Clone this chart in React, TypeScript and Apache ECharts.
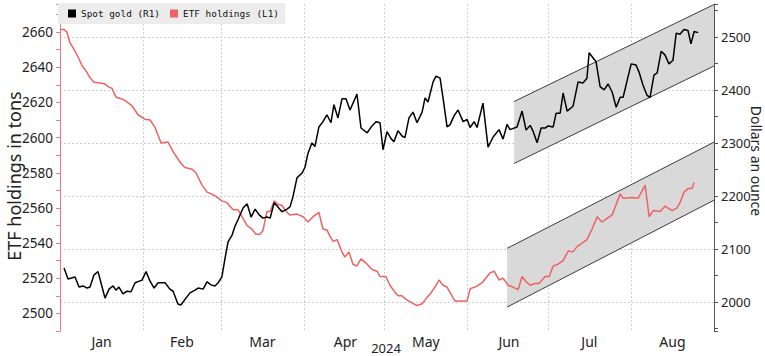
import React, { useEffect, useRef } from 'react';
import * as echarts from 'echarts';

// Month labels and lengths (2024, leap year) for the x axis
const monthNames = ['Jan', 'Feb', 'Mar', 'Apr', 'May', 'Jun', 'Jul', 'Aug'];
const monthDays = [31, 29, 31, 30, 31, 30, 31, 31];

// Spot gold, dollars an ounce (right axis). x = days since Jan 1, 2024
const goldDays = [1.5,3.0,5.6,7.1,8.6,10.1,11.2,12.7,14.2,15.7,16.8,18.3,19.8,20.9,22.0,23.5,25.0,26.5,28.0,30.6,32.1,33.6,35.1,36.6,39.2,41.0,42.2,44.0,45.1,47.0,48.5,50.4,51.5,53.4,54.9,56.3,57.8,59.0,60.4,61.6,62.7,64.2,65.3,66.4,68.3,69.8,71.3,72.8,74.3,75.7,77.2,78.4,79.9,81.3,82.8,84.7,85.8,86.9,88.4,90.3,91.4,92.5,94.0,95.1,96.6,98.1,99.6,101.1,102.2,103.7,105.2,106.7,108.2,110.8,112.3,114.6,116.4,117.9,119.4,120.5,122.0,123.5,124.6,126.1,127.6,128.7,130.2,131.7,133.2,135.1,136.2,137.3,139.2,140.3,141.8,142.9,144.4,145.5,147.0,148.5,150.4,151.9,153.0,154.5,155.6,157.8,159.7,161.6,163.8,165.3,166.8,167.9,170.5,172.4,173.9,175.4,176.5,178.0,179.5,181.0,182.1,184.0,185.1,186.6,187.7,189.2,191.4,193.3,195.1,196.6,197.4,200.0,201.5,203.0,204.5,206.0,207.5,209.0,210.1,211.6,213.1,214.9,216.0,217.5,219.0,220.1,221.6,222.8,224.3,225.7,227.2,228.7,229.9,231.3,232.8,234.3,235.4,236.6,238.1];
const goldPrices = [2064,2043,2047,2028,2030,2026,2028,2051,2057,2028,2007,2024,2030,2022,2028,2015,2020,2019,2036,2041,2057,2039,2026,2036,2036,2024,2020,1996,1994,2007,2017,2022,2026,2024,2038,2032,2030,2036,2047,2083,2113,2126,2143,2155,2177,2185,2160,2175,2164,2158,2160,2158,2187,2179,2170,2175,2179,2198,2234,2243,2254,2280,2300,2293,2330,2340,2353,2338,2372,2347,2383,2383,2362,2392,2328,2319,2332,2340,2338,2287,2321,2308,2302,2323,2313,2310,2347,2358,2338,2358,2385,2377,2415,2426,2422,2385,2330,2334,2351,2362,2340,2344,2329,2340,2329,2375,2292,2311,2325,2307,2335,2325,2330,2360,2324,2333,2322,2300,2328,2328,2332,2330,2356,2356,2394,2360,2369,2415,2413,2422,2470,2453,2406,2400,2411,2396,2367,2386,2386,2418,2449,2447,2434,2409,2390,2385,2428,2432,2473,2466,2449,2456,2507,2505,2514,2512,2487,2510,2508];

// ETF holdings, tons (left axis)
const etfDays = [0,1.5,2.6,3.7,4.9,6.7,8.2,10.1,11.2,12.7,14.9,16.8,17.9,19.4,20.9,23.1,24.3,26.9,29.1,31.7,33.6,35.4,37.7,40.3,42.2,44.8,46.6,49.3,50.7,53.0,54.9,57.8,60.4,62.3,64.6,66.4,67.9,69.8,71.6,73.1,74.6,75.7,77.2,78.4,79.9,81.3,82.8,84.7,85.8,88.4,90.7,92.5,94.4,96.6,98.1,99.6,100.7,101.9,103.4,105.2,106.3,107.8,109.3,110.8,112.3,114.6,116.4,118.3,119.4,121.6,123.1,125.0,126.1,127.6,129.1,131.3,133.2,135.1,136.9,138.1,139.9,141.4,142.9,144.4,146.6,147.4,148.5,150.4,151.9,153.0,155.6,157.8,160.4,162.0,163.8,165.3,167.2,169.0,170.9,172.4,173.9,175.4,177.2,178.7,181.0,182.5,184.0,185.8,187.7,189.6,191.4,192.9,194.8,196.6,198.5,200.4,202.2,204.1,206.0,209.0,210.1,213.4,215.7,218.3,219.8,221.3,223.9,225.7,228.4,230.2,231.3,232.8,234.3,235.8,236.6];
const etfTons = [2661.5,2661.5,2660,2654,2651,2646,2641,2637,2634,2631.5,2631,2630.5,2629,2628,2623,2622,2621,2618,2613,2610.5,2610,2606,2597,2597.5,2592,2586,2583,2582,2580,2573,2569,2567,2564,2563,2559,2559,2555,2550,2548,2545,2545,2547,2558,2558,2564,2562,2561.5,2557.5,2556,2556.5,2555,2552,2555,2557.5,2548,2547.5,2544,2541,2542,2535,2532,2535,2528,2527,2531,2528,2525,2524,2521,2521,2516,2512,2510,2510,2508,2506,2504.5,2505.5,2509,2511,2515,2519,2516,2515,2509,2507,2507,2507,2507,2514,2515.5,2518,2523,2524,2519,2520,2516,2515,2513.5,2521,2518,2516,2517,2517,2521,2521,2527,2528,2530,2535.5,2535,2538,2540,2542,2548,2555,2552,2554,2556,2568,2565.5,2566,2565.5,2573,2555,2558.5,2558,2561,2558.5,2560,2563,2569,2571,2571,2574.5];

// Trend channels: [start day, end day], lower and upper edges
const goldChannelDays = [169.4, 244];
const goldChannelLow = [2261, 2445];
const goldChannelHigh = [2378, 2561];
const etfChannelDays = [166.8, 244];
const etfChannelLow = [2503.6, 2564.4];
const etfChannelHigh = [2537, 2597.4];

// Axis ranges
const leftMin = 2490;
const leftMax = 2676;
const rightMin = 1945;
const rightMax = 2562;

const NUM_FONT = 'Noto Sans';

function buildDayCategories() {
  const cats: string[] = [];
  const monthStart: number[] = [];
  const monthMid: number[] = [];
  let idx = 0;
  monthDays.forEach((n, m) => {
    monthStart.push(idx);
    monthMid.push(idx + Math.floor(n / 2));
    for (let d = 1; d <= n; d++) {
      cats.push(monthNames[m] + ' ' + d);
      idx++;
    }
  });
  return { cats, monthStart, monthMid };
}

function channelRender(params: any, api: any) {
  const a = api.coord([api.value(0), api.value(1)]);
  const b = api.coord([api.value(0), api.value(2)]);
  const c = api.coord([api.value(3), api.value(5)]);
  const d = api.coord([api.value(3), api.value(4)]);
  return {
    type: 'group',
    children: [
      { type: 'polygon', shape: { points: [a, b, c, d] }, style: { fill: '#d9d9d9' } },
      { type: 'line', shape: { x1: a[0], y1: a[1], x2: d[0], y2: d[1] }, style: { stroke: '#3c3c3c', lineWidth: 1 } },
      { type: 'line', shape: { x1: b[0], y1: b[1], x2: c[0], y2: c[1] }, style: { stroke: '#3c3c3c', lineWidth: 1 } },
    ],
  };
}

export default function App() {
  const ref = useRef<HTMLDivElement>(null);

  useEffect(() => {
    if (!ref.current) return;
    const chart = echarts.init(ref.current, null, { renderer: 'svg' });
    const { cats, monthStart, monthMid } = buildDayCategories();
    const totalDays = cats.length;

    const gold = goldDays.map((d, i) => [d, goldPrices[i]]);
    const etf = etfDays.map((d, i) => [d, etfTons[i]]);

    chart.setOption({
      animation: false,
      backgroundColor: '#ffffff',
      grid: { left: 60, right: 51, top: 4, bottom: 25, containLabel: false, outerBoundsMode: 'none' },
      legend: {
        left: 58,
        top: 3,
        backgroundColor: '#ececec',
        padding: [6, 6, 6, 10],
        itemGap: 10,
        itemWidth: 8,
        itemHeight: 8,
        icon: 'rect',
        data: ['Spot gold (R1)', 'ETF holdings (L1)'],
        textStyle: { fontFamily: 'DejaVu Sans Mono', fontSize: 9.4, color: '#111' },
      },
      xAxis: [
        {
          type: 'value',
          min: 0,
          max: totalDays,
          show: false,
        },
        {
          type: 'category',
          position: 'bottom',
          data: cats,
          boundaryGap: true,
          axisLine: { show: false },
          axisTick: { show: false },
          axisLabel: {
            interval: (i: number) => monthMid.includes(i),
            formatter: (v: string) => v.split(' ')[0],
            margin: 3,
            fontFamily: NUM_FONT,
            fontSize: 14,
            color: '#222',
          },
          splitLine: {
            show: true,
            interval: (i: number) => monthStart.includes(i) && i > 0,
            lineStyle: { color: '#cfcfcf', type: [2, 2], width: 1 },
          },
        },
      ],
      yAxis: [
        {
          type: 'value',
          position: 'left',
          min: leftMin,
          max: leftMax,
          splitNumber: 9,
          axisLine: { show: true, lineStyle: { color: '#f07a7a', width: 1 } },
          axisTick: { show: true, length: 4, lineStyle: { color: '#f07a7a' } },
          minorTick: { show: true, splitNumber: 2, length: 4, lineStyle: { color: '#f07a7a' } },
          axisLabel: {
            showMinLabel: false,
            showMaxLabel: false,
            margin: 7,
            formatter: (v: number) => String(v),
            fontFamily: NUM_FONT,
            fontSize: 13.5,
            color: '#222',
          },
          splitLine: { show: false },
        },
        {
          type: 'value',
          position: 'right',
          min: rightMin,
          max: rightMax,
          splitNumber: 6,
          axisLine: { show: true, lineStyle: { color: '#555', width: 1 } },
          axisTick: { show: true, length: 4, lineStyle: { color: '#555' } },
          minorTick: { show: true, splitNumber: 2, length: 4, lineStyle: { color: '#555' } },
          axisLabel: {
            showMinLabel: false,
            showMaxLabel: false,
            margin: 7,
            formatter: (v: number) => String(v),
            fontFamily: NUM_FONT,
            fontSize: 13,
            color: '#222',
          },
          splitLine: {
            show: true,
            showMinLine: false,
            showMaxLine: false,
            lineStyle: { color: '#cfcfcf', type: [2, 2], width: 1 },
          },
        },
      ],
      graphic: [
        {
          type: 'text',
          x: 13.5,
          y: 176,
          rotation: Math.PI / 2,
          style: {
            text: 'ETF holdings in tons',
            fontFamily: NUM_FONT,
            fontSize: 18,
            fill: '#222',
            align: 'center',
            verticalAlign: 'middle',
          },
        },
        {
          type: 'text',
          x: 756,
          y: 161,
          rotation: -Math.PI / 2,
          style: {
            text: 'Dollars an ounce',
            fontFamily: NUM_FONT,
            fontSize: 14,
            fill: '#222',
            align: 'center',
            verticalAlign: 'middle',
          },
        },
        {
          type: 'text',
          x: 386,
          y: 341,
          style: {
            text: '2024',
            fontFamily: NUM_FONT,
            fontSize: 13,
            fill: '#222',
            align: 'center',
            verticalAlign: 'top',
          },
        },
      ],
      series: [
        {
          type: 'custom',
          name: 'Gold channel',
          xAxisIndex: 0,
          yAxisIndex: 1,
          silent: true,
          z: 1,
          renderItem: channelRender,
          encode: { x: [0, 3], y: [1, 2, 4, 5] },
          data: [[goldChannelDays[0], goldChannelLow[0], goldChannelHigh[0], goldChannelDays[1], goldChannelLow[1], goldChannelHigh[1]]],
        },
        {
          type: 'custom',
          name: 'ETF channel',
          xAxisIndex: 0,
          yAxisIndex: 0,
          silent: true,
          z: 1,
          renderItem: channelRender,
          encode: { x: [0, 3], y: [1, 2, 4, 5] },
          data: [[etfChannelDays[0], etfChannelLow[0], etfChannelHigh[0], etfChannelDays[1], etfChannelLow[1], etfChannelHigh[1]]],
        },
        {
          type: 'line',
          name: 'ETF holdings (L1)',
          xAxisIndex: 0,
          yAxisIndex: 0,
          data: etf,
          showSymbol: false,
          symbol: 'none',
          color: '#f06262',
          lineStyle: { color: '#f06262', width: 1.5 },
          z: 3,
        },
        {
          type: 'line',
          name: 'Spot gold (R1)',
          xAxisIndex: 0,
          yAxisIndex: 1,
          data: gold,
          showSymbol: false,
          symbol: 'none',
          color: '#000000',
          lineStyle: { color: '#000000', width: 1.5 },
          z: 4,
        },
      ],
    });

    return () => chart.dispose();
  }, []);

  return (
    <div
      ref={ref}
      style={{ position: 'fixed', left: 0, top: 0, width: '765px', height: '356px' }}
    />
  );
}
